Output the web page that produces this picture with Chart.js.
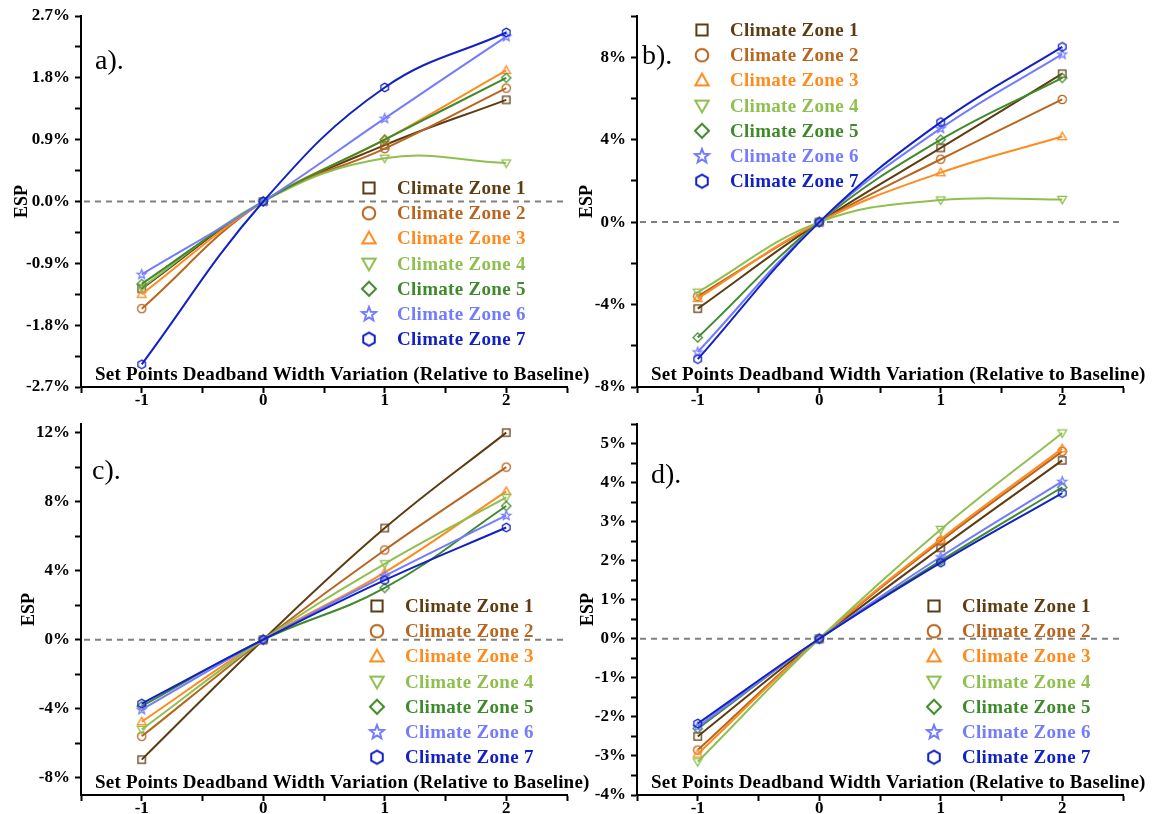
<!DOCTYPE html>
<html>
<head>
<meta charset="utf-8">
<script src="https://cdn.jsdelivr.net/npm/chart.js@4.4.1/dist/chart.umd.min.js"></script>
<style>
  html, body { margin: 0; padding: 0; background: #fff; }
  #wrap { position: relative; width: 1166px; height: 814px; }
  #wrap canvas { position: absolute; left: 0; top: 0; }
</style>
</head>
<body>
<div id="wrap">
  <canvas id="panelA" width="1166" height="814"></canvas>
  <canvas id="panelB" width="1166" height="814"></canvas>
  <canvas id="panelC" width="1166" height="814"></canvas>
  <canvas id="panelD" width="1166" height="814"></canvas>
</div>
<script>
// x positions: deadband width variation relative to baseline
const xValues = [-1, 0, 1, 2];
const xMajorTicks = [-1, 0, 1, 2];

const zoneNames = ['Climate Zone 1', 'Climate Zone 2', 'Climate Zone 3', 'Climate Zone 4',
    'Climate Zone 5', 'Climate Zone 6', 'Climate Zone 7'];
const zoneColors = ['#5e3c12', '#b8651f', '#ff8b1f', '#8fbf4f', '#3f8a2a', '#737bff', '#1221c4'];
const zoneShapes = ['square', 'circle', 'triangle', 'triangleDown', 'diamond', 'star', 'hexagon'];

// ESP (%) per climate zone, one row per zone
const espA = [
    [-1.27, 0, 0.82, 1.48],
    [-1.56, 0, 0.77, 1.65],
    [-1.35, 0, 0.90, 1.91],
    [-1.25, 0, 0.63, 0.56],
    [-1.20, 0, 0.90, 1.80],
    [-1.06, 0, 1.21, 2.40],
    [-2.37, 0, 1.66, 2.46],
];
const espB = [
    [-4.2, 0, 3.6, 7.2],
    [-3.6, 0, 3.05, 5.95],
    [-3.7, 0, 2.4, 4.15],
    [-3.4, 0, 1.07, 1.1],
    [-5.6, 0, 4.0, 7.0],
    [-6.3, 0, 4.55, 8.15],
    [-6.65, 0, 4.85, 8.5],
];
const espC = [
    [-6.95, 0, 6.47, 12.0],
    [-5.6, 0, 5.2, 10.0],
    [-4.75, 0, 3.9, 8.6],
    [-5.2, 0, 4.4, 8.25],
    [-3.85, 0, 3.0, 7.75],
    [-4.05, 0, 3.7, 7.2],
    [-3.7, 0, 3.45, 6.5],
];
const espD = [
    [-2.5, 0, 2.33, 4.57],
    [-2.85, 0, 2.5, 4.8],
    [-2.95, 0, 2.55, 4.87],
    [-3.15, 0, 2.8, 5.27],
    [-2.3, 0, 2.0, 3.88],
    [-2.25, 0, 2.1, 4.03],
    [-2.17, 0, 1.95, 3.73],
];

// labelled y ticks per panel
const yTicksA = [-2.7, -1.8, -0.9, 0, 0.9, 1.8, 2.7];
const yTicksB = [-8, -4, 0, 4, 8];
const yTicksC = [-8, -4, 0, 4, 8, 12];
const yTicksD = [-4, -3, -2, -1, 0, 1, 2, 3, 4, 5];

const xTitle = 'Set Points Deadband Width Variation (Relative to Baseline)';
const yTitle = 'ESP';

const SERIF = '"Liberation Serif", "Times New Roman", serif';

const makeMarker = (shape, color, r, lw) => {
    const size = Math.ceil(2 * r + lw + 4);
    const c = document.createElement('canvas');
    c.width = size;
    c.height = size;
    const ctx = c.getContext('2d');
    ctx.translate(size / 2, size / 2);
    ctx.strokeStyle = color;
    ctx.lineWidth = lw;
    ctx.lineJoin = 'miter';
    ctx.beginPath();
    const poly = (pts) => {
        pts.forEach(([px, py], i) => (i ? ctx.lineTo(px, py) : ctx.moveTo(px, py)));
        ctx.closePath();
    };
    const ring = (n, rad, start) => Array.from({ length: n }, (_, k) => {
        const a = start + k * 2 * Math.PI / n;
        return [rad * Math.cos(a), rad * Math.sin(a)];
    });
    if (shape === 'square') {
        ctx.rect(-0.8 * r, -0.8 * r, 1.6 * r, 1.6 * r);
    } else if (shape === 'circle') {
        ctx.arc(0, 0, 0.9 * r, 0, 2 * Math.PI);
    } else if (shape === 'triangle') {
        poly(ring(3, 1.1 * r, -Math.PI / 2).map(([px, py]) => [px, py + 0.15 * r]));
    } else if (shape === 'triangleDown') {
        poly(ring(3, 1.1 * r, Math.PI / 2).map(([px, py]) => [px, py - 0.15 * r]));
    } else if (shape === 'diamond') {
        poly([[0, -r], [r, 0], [0, r], [-r, 0]]);
    } else if (shape === 'star') {
        const pts = [];
        for (let k = 0; k < 10; k++) {
            const rad = k % 2 ? 0.45 * r : 1.05 * r;
            const a = -Math.PI / 2 + k * Math.PI / 5;
            pts.push([rad * Math.cos(a), rad * Math.sin(a) + 0.05 * r]);
        }
        poly(pts);
    } else if (shape === 'hexagon') {
        poly(ring(6, 0.95 * r, -Math.PI / 2));
    }
    ctx.stroke();
    return c;
};

const plotMarkers = zoneShapes.map((s, i) => makeMarker(s, zoneColors[i], 4.6, 1.3));
const legendMarkers = zoneShapes.map((s, i) => makeMarker(s, zoneColors[i], 7, 2));

const isMajor = (v, list) => list.some((m) => Math.abs(m - v) < 1e-6);

const withMinor = (majors, min, max) => {
    const step = (majors[1] - majors[0]) / 2;
    const out = [];
    for (let v = majors[0] - 4 * step; v <= max + 1e-9; v += step) {
        if (v >= min - 1e-9) {
            out.push(Math.round(v * 1000) / 1000);
        }
    }
    return out;
};

const overlayPlugin = {
    id: 'overlay',
    beforeDatasetsDraw(chart, args, o) {
        const { ctx, chartArea } = chart;
        const y0 = chart.scales.y.getPixelForValue(0);
        ctx.save();
        ctx.strokeStyle = '#808080';
        ctx.lineWidth = 2;
        ctx.setLineDash([6, 5]);
        ctx.beginPath();
        ctx.moveTo(chartArea.left + 3, y0);
        ctx.lineTo(chartArea.right, y0);
        ctx.stroke();
        ctx.restore();
    },
    afterDraw(chart, args, o) {
        const { ctx, chartArea } = chart;
        ctx.save();

        ctx.fillStyle = '#000';
        ctx.font = `28px ${SERIF}`;
        ctx.textBaseline = 'middle';
        ctx.textAlign = 'left';
        ctx.fillText(o.tag, o.tagPos[0], o.tagPos[1]);

        ctx.font = `bold 19px ${SERIF}`;
        ctx.letterSpacing = '0.2px';
        ctx.fillText(xTitle, chartArea.left + 14, chartArea.bottom - 12);

        ctx.save();
        ctx.letterSpacing = '0px';
        ctx.font = `bold 18px ${SERIF}`;
        ctx.translate(o.espX, (chartArea.top + chartArea.bottom) / 2);
        ctx.rotate(-Math.PI / 2);
        ctx.textAlign = 'center';
        ctx.fillText(yTitle, 0, 0);
        ctx.restore();

        ctx.font = `bold 19px ${SERIF}`;
        ctx.letterSpacing = '0.3px';
        zoneNames.forEach((name, i) => {
            const y = o.legend[1] + i * 25.2;
            const m = legendMarkers[i];
            ctx.drawImage(m, o.legend[0] - m.width / 2, y - m.height / 2);
            ctx.fillStyle = zoneColors[i];
            ctx.fillText(name, o.legend[0] + 28, y + 1);
        });
        ctx.restore();
    },
};

const buildPanel = (id, cfg) => {
    const yAll = withMinor(cfg.yTicks, cfg.yMin, cfg.yMax);
    const xAll = [-1.5, -1, -0.5, 0, 0.5, 1, 1.5, 2, 2.5];

    return new Chart(document.getElementById(id), {
        type: 'line',
        data: {
            datasets: cfg.series.map((vals, i) => ({
                label: zoneNames[i],
                data: vals.map((v, k) => ({ x: xValues[k], y: v })),
                borderColor: zoneColors[i],
                backgroundColor: zoneColors[i],
                borderWidth: 2,
                pointStyle: plotMarkers[i],
                tension: 0.4,
                order: 6 - i,
            })),
        },
        options: {
            responsive: false,
            animation: false,
            events: [],
            layout: {
                autoPadding: false,
                padding: {
                    left: cfg.area.left - 60,
                    right: 1166 - cfg.area.right,
                    top: cfg.area.top,
                    bottom: 814 - cfg.area.bottom - 25,
                },
            },
            scales: {
                x: {
                    type: 'linear',
                    min: -1.5,
                    max: 2.5,
                    afterBuildTicks: (s) => { s.ticks = xAll.map((v) => ({ value: v })); },
                    afterFit: (s) => {
                        s.height = 25;
                        s.paddingLeft = 0;
                        s.paddingRight = 0;
                    },
                    ticks: {
                        autoSkip: false,
                        maxRotation: 0,
                        padding: -3,
                        color: '#000',
                        font: { family: SERIF, size: 17, weight: 'bold' },
                        callback: (v) => (isMajor(v, xMajorTicks) ? String(v) : ''),
                    },
                    grid: {
                        drawOnChartArea: false,
                        tickLength: 6,
                        tickWidth: 2,
                        tickColor: '#000',
                    },
                    border: { color: '#000', width: 2 },
                },
                y: {
                    type: 'linear',
                    min: cfg.yMin,
                    max: cfg.yMax,
                    afterBuildTicks: (s) => { s.ticks = yAll.map((v) => ({ value: v })); },
                    afterFit: (s) => {
                        s.width = 60;
                        s.paddingTop = 0;
                        s.paddingBottom = 0;
                    },
                    ticks: {
                        autoSkip: false,
                        padding: 5,
                        color: '#000',
                        font: { family: SERIF, size: 17, weight: 'bold' },
                        callback: (v) => (isMajor(v, cfg.yTicks) ? cfg.fmt(v) + '%' : ''),
                    },
                    grid: {
                        drawOnChartArea: false,
                        tickLength: 6,
                        tickWidth: 2,
                        tickColor: '#000',
                    },
                    border: { color: '#000', width: 2 },
                },
            },
            plugins: {
                legend: { display: false },
                tooltip: { enabled: false },
                overlay: {
                    tag: cfg.tag,
                    tagPos: cfg.tagPos,
                    espX: cfg.espX,
                    legend: cfg.legend,
                },
            },
        },
        plugins: [overlayPlugin],
    });
};

buildPanel('panelA', {
    series: espA, yTicks: yTicksA, yMin: -2.7, yMax: 2.7, fmt: (v) => v.toFixed(1),
    area: { left: 81, right: 567, top: 16, bottom: 387 },
    tag: 'a).', tagPos: [95, 62], espX: 22, legend: [369, 188],
});
buildPanel('panelB', {
    series: espB, yTicks: yTicksB, yMin: -8, yMax: 10, fmt: (v) => v.toFixed(0),
    area: { left: 637, right: 1123, top: 16, bottom: 387 },
    tag: 'b).', tagPos: [642, 57], espX: 587, legend: [702, 30],
});
buildPanel('panelC', {
    series: espC, yTicks: yTicksC, yMin: -9, yMax: 12.5, fmt: (v) => v.toFixed(0),
    area: { left: 81, right: 567, top: 424, bottom: 795 },
    tag: 'c).', tagPos: [92, 472], espX: 29, legend: [377, 606],
});
buildPanel('panelD', {
    series: espD, yTicks: yTicksD, yMin: -4, yMax: 5.5, fmt: (v) => v.toFixed(0),
    area: { left: 637, right: 1123, top: 424, bottom: 795 },
    tag: 'd).', tagPos: [651, 476], espX: 588, legend: [934, 606],
});
</script>
</body>
</html>
